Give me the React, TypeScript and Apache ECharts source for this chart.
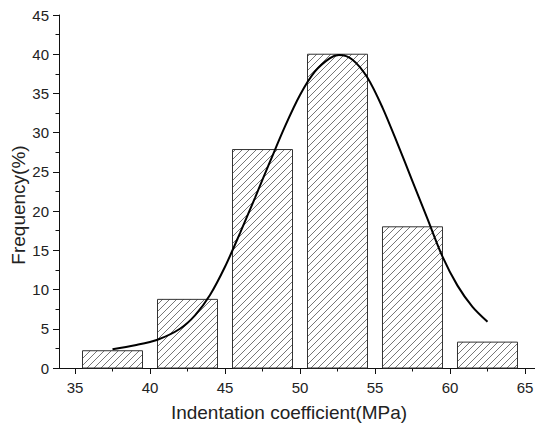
import React, { useEffect, useRef } from "react";
import * as echarts from "echarts";

// Histogram bins (MPa) and frequency (%)
const binStart = [35.5, 40.5, 45.5, 50.5, 55.5, 60.5];
const binEnd = [39.5, 44.5, 49.5, 54.5, 59.5, 64.5];
const frequency = [2.2, 8.75, 27.85, 40, 18, 3.3];

// Fitted distribution curve
const fitX = [37.5, 39, 40.5, 42, 43, 44, 45, 46, 47, 48, 49, 50, 51, 52, 52.6, 53.5, 54.5, 55.5, 56.5, 57.5, 58.5, 59.5, 60.5, 61.5, 62.5];
const fitY = [2.4, 2.9, 3.6, 5.0, 6.7, 9.3, 12.9, 17.2, 21.7, 26.3, 30.8, 34.8, 37.8, 39.5, 39.9, 39.3, 37.0, 33.2, 28.6, 23.8, 19.0, 14.2, 10.5, 7.8, 5.9];

const xTickMin = 35;
const xTickMax = 65;
const yMin = 0;
const yMax = 45;

const FONT = "'Liberation Sans', Arial, sans-serif";

export default function App() {
  const ref = useRef<HTMLDivElement>(null);

  useEffect(() => {
    if (!ref.current) return;
    const chart = echarts.init(ref.current, undefined, { renderer: "svg" });

    const barData = binStart.map((s, i) => [s, binEnd[i], frequency[i]]);
    const lineData = fitX.map((x, i) => [x, fitY[i]]);

    const option: any = {
      animation: false,
      backgroundColor: "#fff",
      grid: [
        { left: 59, right: 0, top: 15, bottom: 60, containLabel: false, outerBoundsMode: "none" },
        { left: 75, right: 10, top: 15, bottom: 60, containLabel: false, outerBoundsMode: "none" },
      ],
      xAxis: [
        {
          gridIndex: 0,
          type: "value",
          min: 33.9333,
          max: 65.6667,
          axisLine: { show: true, lineStyle: { color: "#111", width: 1 } },
          axisTick: { show: false },
          axisLabel: { show: false },
          splitLine: { show: false },
          name: "Indentation coefficient(MPa)",
          nameLocation: "middle",
          nameGap: 35,
          nameMoveOverlap: false,
          nameTextStyle: {
            fontSize: 19,
            color: "#222",
            fontFamily: FONT,
            padding: [0, 16, 0, 0],
          },
        },
        {
          gridIndex: 1,
          type: "value",
          min: xTickMin,
          max: xTickMax,
          interval: 5,
          axisLine: { show: false },
          axisTick: { show: true, length: 6, lineStyle: { color: "#111", width: 1 } },
          minorTick: { show: true, splitNumber: 2, length: 3.5, lineStyle: { color: "#111", width: 1 } },
          axisLabel: { margin: 12, fontSize: 15, color: "#222", fontFamily: FONT },
          splitLine: { show: false },
          minorSplitLine: { show: false },
        },
      ],
      yAxis: [
        {
          gridIndex: 0,
          type: "value",
          min: yMin,
          max: yMax,
          interval: 5,
          axisLine: { show: true, lineStyle: { color: "#111", width: 1 } },
          axisTick: { show: true, length: 6, lineStyle: { color: "#111", width: 1 } },
          minorTick: { show: true, splitNumber: 2, length: 3.5, lineStyle: { color: "#111", width: 1 } },
          axisLabel: { margin: 10, fontSize: 15, color: "#222", fontFamily: FONT },
          splitLine: { show: false },
          name: "Frequency(%)",
          nameLocation: "middle",
          nameGap: 31,
          nameMoveOverlap: false,
          nameTextStyle: {
            fontSize: 19,
            color: "#222",
            fontFamily: FONT,
            padding: [0, 27, 0, 0],
          },
        },
        {
          gridIndex: 1,
          type: "value",
          min: yMin,
          max: yMax,
          show: false,
        },
      ],
      series: [
        {
          type: "custom",
          xAxisIndex: 0,
          yAxisIndex: 0,
          data: barData,
          z: 2,
          renderItem: (params: any, api: any) => {
            const lo = api.value(0);
            const hi = api.value(1);
            const v = api.value(2);
            const p0 = api.coord([lo, v]);
            const p1 = api.coord([hi, 0]);
            const x0 = p0[0], y0 = p0[1], x1 = p1[0], y1 = p1[1];
            const children: any[] = [];
            children.push({
              type: "rect",
              shape: { x: x0, y: y0, width: x1 - x0, height: y1 - y0 },
              style: { fill: "#fff", stroke: "none" },
            });
            const step = 7;
            const cStart = Math.ceil((x0 + y0) / step) * step;
            for (let c = cStart; c <= x1 + y1; c += step) {
              const xa = Math.max(x0, c - y1);
              const xb = Math.min(x1, c - y0);
              if (xb > xa + 0.3) {
                children.push({
                  type: "line",
                  shape: { x1: xa, y1: c - xa, x2: xb, y2: c - xb },
                  style: { stroke: "#666", lineWidth: 0.9 },
                });
              }
            }
            children.push({
              type: "rect",
              shape: { x: x0, y: y0, width: x1 - x0, height: y1 - y0 },
              style: { fill: "none", stroke: "#333", lineWidth: 1 },
            });
            return { type: "group", children };
          },
        },
        {
          type: "line",
          xAxisIndex: 0,
          yAxisIndex: 0,
          data: lineData,
          smooth: 0.3,
          showSymbol: false,
          symbol: "none",
          z: 5,
          lineStyle: { color: "#000", width: 2 },
        },
      ],
    };

    chart.setOption(option);
    return () => chart.dispose();
  }, []);

  return (
    <div
      ref={ref}
      style={{ position: "absolute", left: 0, top: 0, width: 535, height: 428 }}
    />
  );
}
